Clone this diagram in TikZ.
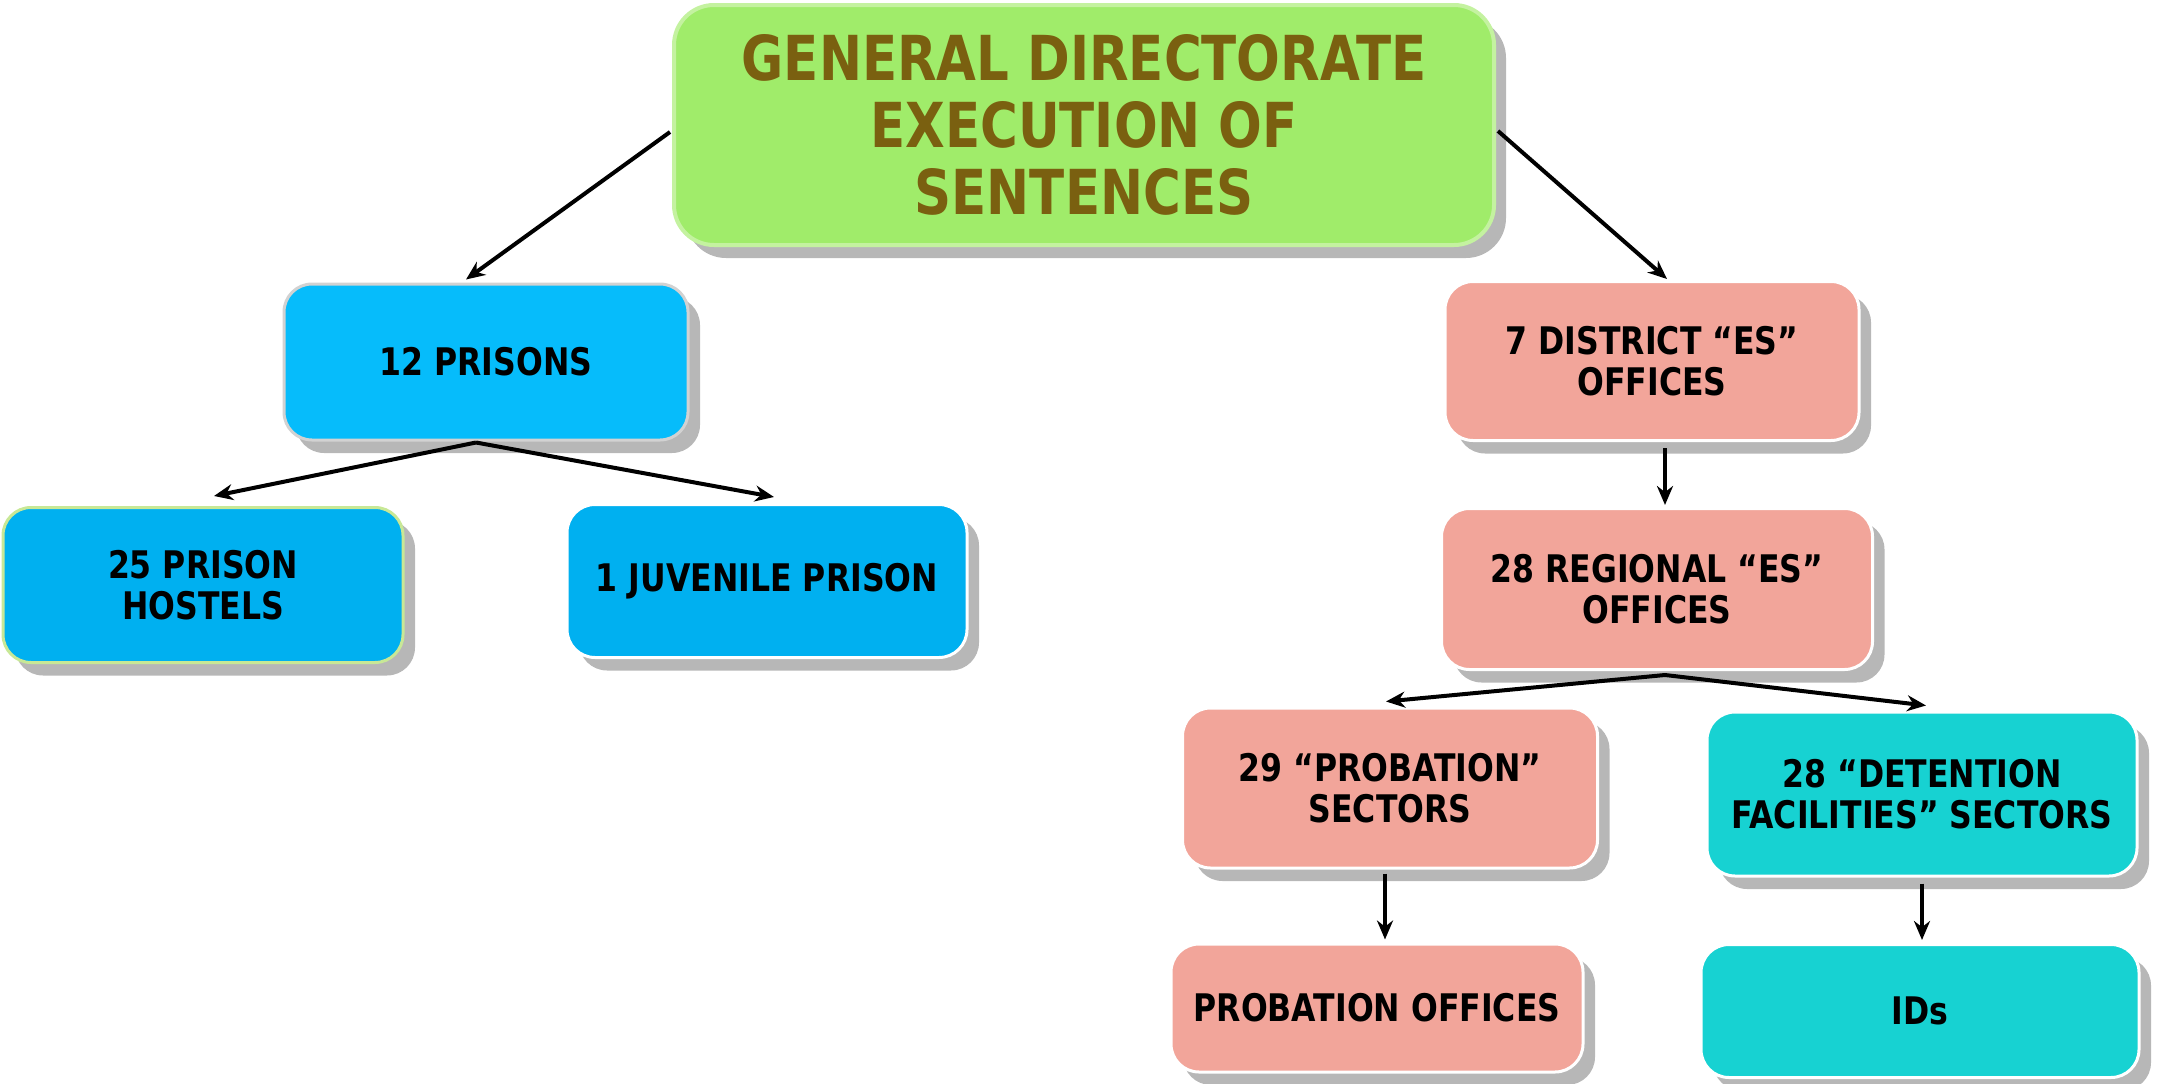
\documentclass[tikz,border=0pt]{standalone}
\usepackage{fontspec}
\newfontfamily\boxfont{DejaVu Sans}[FakeStretch=0.83]
\usetikzlibrary{arrows.meta,shadows,calc}
\definecolor{gfill}{RGB}{160,236,106}
\definecolor{gedge}{RGB}{196,242,160}
\definecolor{gtext}{RGB}{122,96,16}
\definecolor{bluea}{RGB}{6,188,251}
\definecolor{blueb}{RGB}{0,176,240}
\definecolor{salmon}{RGB}{242,165,154}
\definecolor{teal}{RGB}{23,210,210}
\definecolor{lgreen}{RGB}{200,232,150}
\begin{document}
\begin{tikzpicture}[x=1pt,y=-1pt,
  box/.style={rectangle, rounded corners=28pt, draw=white, line width=3pt,
    align=center, inner sep=0pt, text=black,
    font=\boxfont\bfseries\fontsize{38}{41}\selectfont,
    drop shadow={shadow xshift=12pt, shadow yshift=-13pt, fill=black!40, opacity=0.7}},
  arr/.style={-{Stealth[length=19pt,width=16pt]}, line width=4pt, black}]
\useasboundingbox (0,0) rectangle (2161,1084);

\node[box, fill=gfill, draw=gedge, line width=4pt, rounded corners=40pt,
  minimum width=820pt, minimum height=240pt, text=gtext,
  font=\boxfont\bfseries\fontsize{62}{67}\selectfont] (gd) at (1084,125)
  {GENERAL DIRECTORATE\\EXECUTION OF\\SENTENCES};

\node[box, fill=bluea, draw=gray!35, minimum width=404pt, minimum height=156pt] (p12) at (486,362) {12 PRISONS};
\node[box, fill=blueb, draw=lgreen, minimum width=400pt, minimum height=155pt] (ph) at (203,585) {25 PRISON\\HOSTELS};
\node[box, fill=blueb, minimum width=400pt, minimum height=153pt] (jp) at (767,581) {1 JUVENILE PRISON};

\node[box, fill=salmon, minimum width=414pt, minimum height=159pt] (d7) at (1652,361) {7 DISTRICT “ES”\\OFFICES};
\node[box, fill=salmon, minimum width=431pt, minimum height=161pt] (r28) at (1657,589) {28 REGIONAL “ES”\\OFFICES};
\node[box, fill=salmon, minimum width=415pt, minimum height=160pt] (pr29) at (1390,788) {29 “PROBATION”\\SECTORS};
\node[box, fill=teal, minimum width=430pt, minimum height=164pt] (det) at (1922,794) {28 “DETENTION\\FACILITIES” SECTORS};
\node[box, fill=salmon, minimum width=412pt, minimum height=128pt] (po) at (1377,1008) {PROBATION OFFICES};
\node[box, fill=teal, minimum width=438pt, minimum height=133pt] (ids) at (1920,1011) {IDs};

\draw[arr] ($(gd.west)+(-2,7)$) -- ($(p12.north)+(-20,-3)$);
\draw[arr] ($(gd.east)+(2,6)$) -- ($(d7.north)+(15,-1)$);
\draw[arr] ($(p12.south)+(-10,1)$) -- ($(ph.north)+(11,-10)$);
\draw[arr] ($(p12.south)+(-10,1)$) -- ($(jp.north)+(7,-6)$);
\draw[arr, shorten <=6pt, shorten >=2pt] ($(d7.south)+(13,0)$) -- ($(d7.south |- r28.north)+(13,0)$);
\draw[arr] ($(r28.south)+(8,4)$) -- ($(pr29.north)+(-4,-5)$);
\draw[arr] ($(r28.south)+(8,4)$) -- ($(det.north)+(4,-5)$);
\draw[arr, shorten <=4pt, shorten >=3pt] ($(pr29.south)+(-5,0)$) -- ($(pr29.south |- po.north)+(-5,0)$);
\draw[arr, shorten <=6pt, shorten >=3pt] (det.south) -- (det.south |- ids.north);
\end{tikzpicture}
\end{document}
